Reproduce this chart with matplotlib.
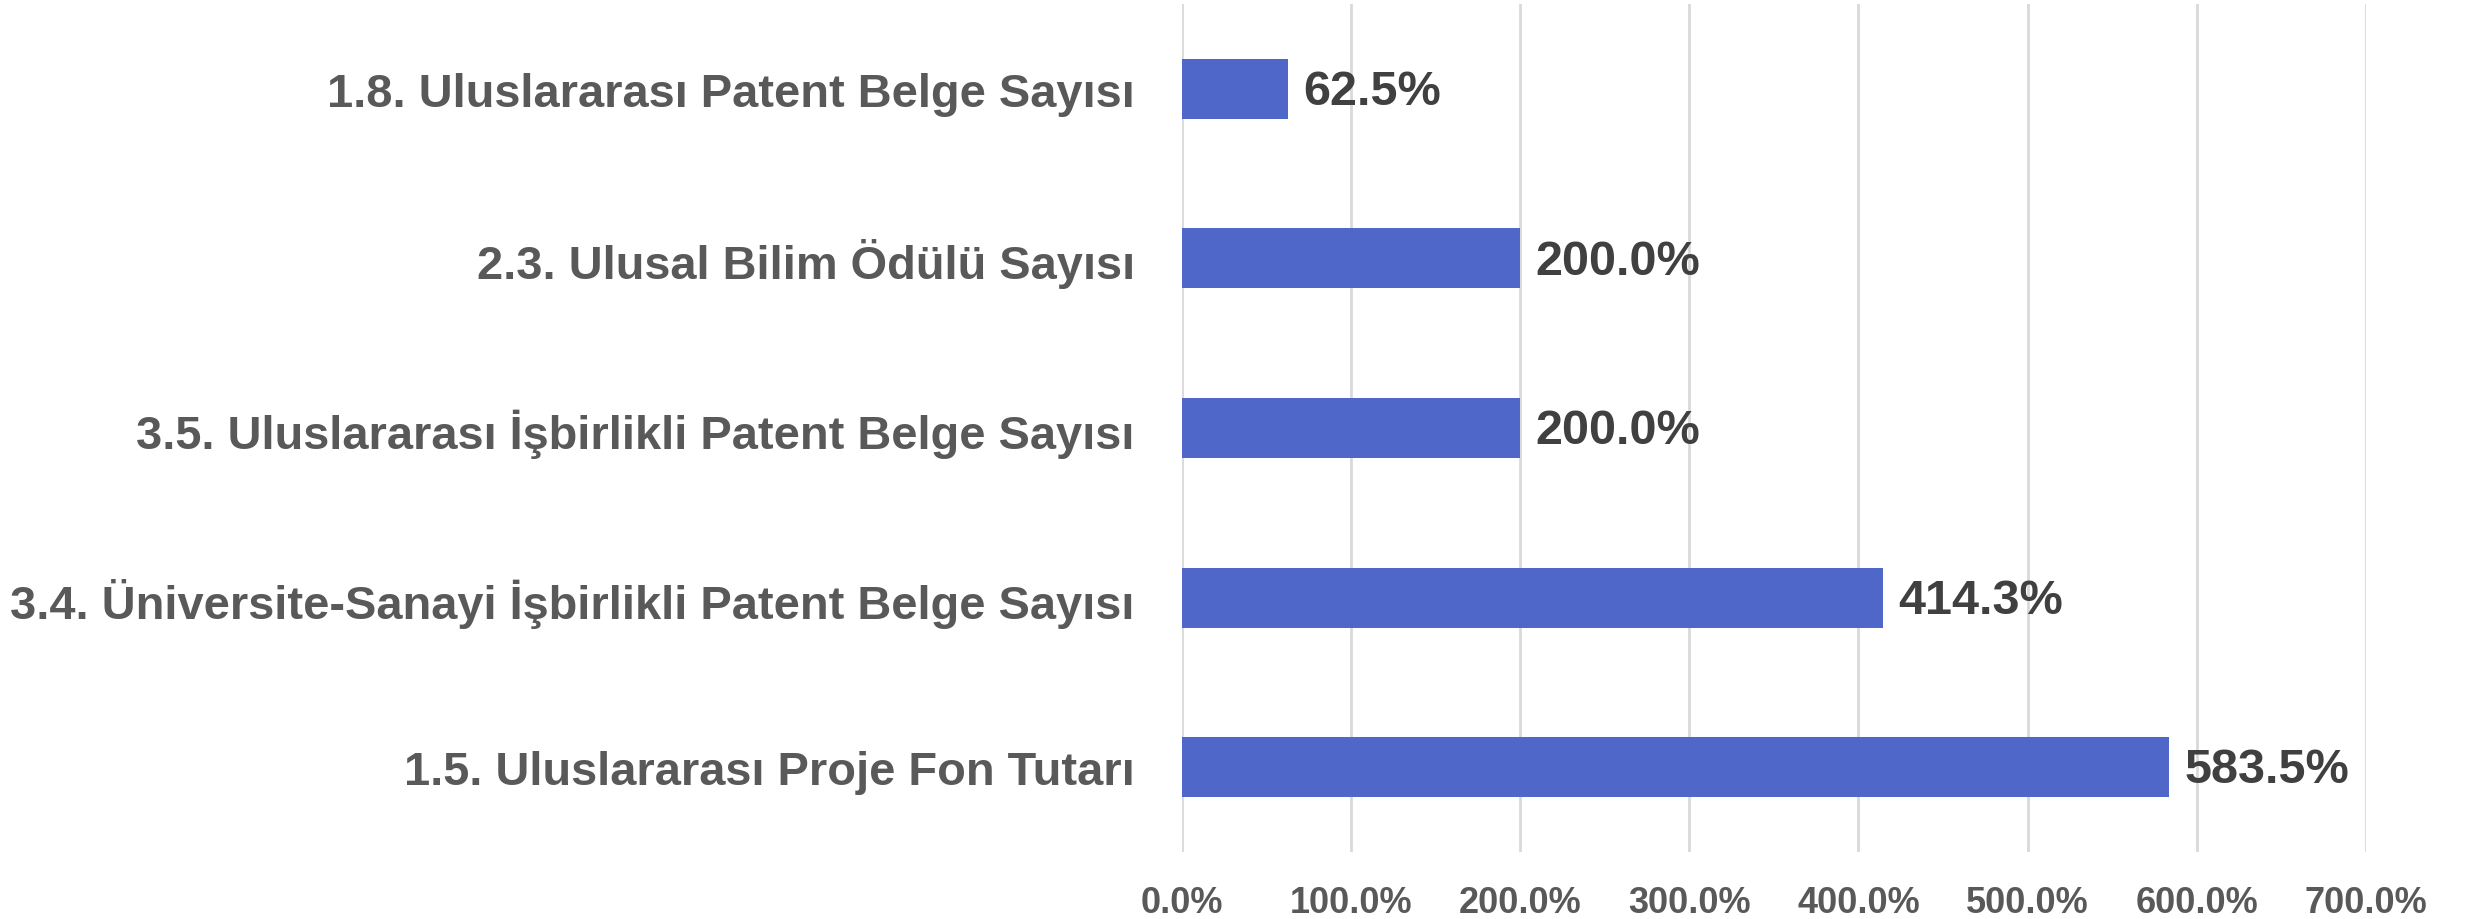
import matplotlib
matplotlib.use("Agg")
from matplotlib import pyplot as plt
from matplotlib.ticker import FuncFormatter

# data, top to bottom as shown
categories = [
    "1.8. Uluslararası Patent Belge Sayısı",
    "2.3. Ulusal Bilim Ödülü Sayısı",
    "3.5. Uluslararası İşbirlikli Patent Belge Sayısı",
    "3.4. Üniversite-Sanayi İşbirlikli Patent Belge Sayısı",
    "1.5. Uluslararası Proje Fon Tutarı",
]
values = [62.5, 200.0, 200.0, 414.3, 583.5]
xticks = [0, 100, 200, 300, 400, 500, 600, 700]

FONT = ["Liberation Sans", "DejaVu Sans"]
BAR = "#4E67C8"
LABEL = "#595959"
VALUE = "#404040"

plt.rcParams["font.family"] = FONT

fig = plt.figure(figsize=(24.66, 9.2), dpi=100)
ax = fig.add_axes([0.4793, 0.0728, 0.4801, 0.9218])

pos = list(range(len(categories)))
ax.barh(pos, values, height=0.354, color=BAR, zorder=3)

for p, v in zip(pos, values):
    ax.annotate("%.1f%%" % v, xy=(v, p), xytext=(11, -2), textcoords="offset points",
                ha="left", va="center", fontsize=35, fontweight="bold", color=VALUE)

ax.set_yticks(pos)
ax.set_yticklabels(categories, fontsize=33.8, fontweight="bold", color=LABEL)
ax.set_ylim(len(categories) - 0.5, -0.5)

ax.set_xlim(0, 700)
ax.set_xticks(xticks)
ax.xaxis.set_major_formatter(FuncFormatter(lambda x, _: "%.1f%%" % x))
for t in ax.get_xticklabels():
    t.set_fontsize(26)
    t.set_fontweight("bold")
    t.set_color(LABEL)

ax.tick_params(axis="x", length=0, pad=24)
ax.tick_params(axis="y", length=0, pad=34)
ax.grid(axis="x", color="#D9D9D9", linewidth=2, zorder=0)
for s in ax.spines.values():
    s.set_visible(False)

fig.savefig("out.png", dpi=100)
